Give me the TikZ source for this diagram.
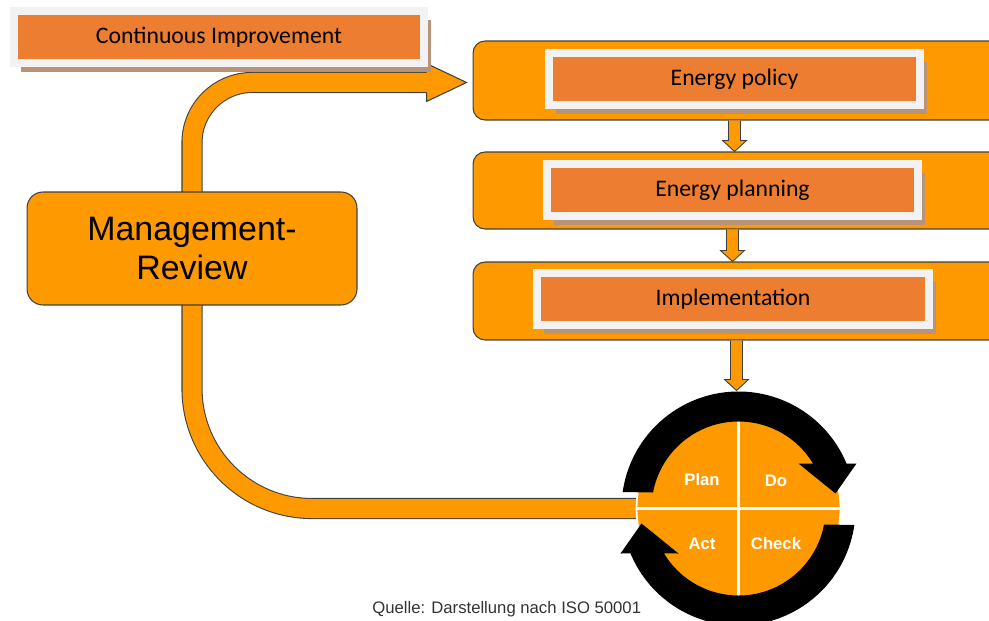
\documentclass[tikz,border=0pt]{standalone}
\usepackage{fontspec}
\setmainfont{Liberation Sans}
\newfontfamily\calibri{Carlito}
\usetikzlibrary{calc,shadows,backgrounds}

\definecolor{boxorange}{HTML}{FF9900}
\definecolor{textorange}{HTML}{ED7D31}
\definecolor{framegray}{HTML}{F2F2F2}
\definecolor{shadowbrown}{HTML}{B8937A}
\definecolor{edgegray}{HTML}{3F3F3F}
\definecolor{captiongray}{HTML}{333333}

% block arrow between two stages, #1 = start, #2 = tip
\newcommand{\stagearrow}[2]{%
  \filldraw[stagelink] ($#1+(-6,0)$) -- ($#2+(-6,-11)$) -- ($#2+(-12,-11)$) -- #2
    -- ($#2+(12,-11)$) -- ($#2+(6,-11)$) -- ($#1+(6,0)$);}

\begin{document}
\begin{tikzpicture}[x=0.02cm, y=-0.02cm,
	stage/.style={draw=edgegray, fill=boxorange, line width=0.6pt, rounded corners=0.24cm, minimum width=10.64cm, minimum height=1.56cm},
	titlebox/.style={draw=framegray, line width=0.16cm, fill=textorange, minimum height=1.04cm, font=\calibri\fontsize{13.5}{16}\selectfont, general shadow={fill=shadowbrown, shadow xshift=0.14cm, shadow yshift=-0.18cm}},
	band/.style={draw=edgegray, line width=0.6pt, double=boxorange, double distance=0.38cm},
	stagelink/.style={draw=edgegray, fill=boxorange, line width=0.5pt},
	ring/.style={fill=black},
	phase/.style={text=white, font=\bfseries\fontsize{9.5}{11}\selectfont}]

	\useasboundingbox (0,0) rectangle (989,621);
	\clip (0,0) rectangle (989,621);

	% process stages
	\node[stage, minimum height=1.58cm] (box1) at (739,80.5) {};
	\node[stage, minimum height=1.54cm] (box2) at (739,190.5) {};
	\node[stage] (box3) at (739,301) {};
	\node[titlebox, minimum width=7.42cm] (e1) at (734.5,79) {Energy policy};
	\node[titlebox, minimum width=7.42cm] (e2) at (732.5,190) {Energy planning};
	\node[titlebox, minimum width=7.84cm] (e3) at (733,299) {Implementation};
	\node[titlebox, minimum width=8.2cm] (ci) at (219,37) {Continuous Improvement};

	\node[draw=edgegray, fill=boxorange, line width=0.6pt, rounded corners=0.32cm, minimum width=6.6cm, minimum height=2.26cm, align=center, font=\fontsize{19.3}{22}\selectfont] (mgmt) at (192,248.5) {Management-\\Review};

	% PDCA wheel
	\node[circle, fill=boxorange, draw=white, line width=1pt, minimum size=4.08cm, inner sep=0pt] (pdca) at (738.5,508.5) {};
	\draw[white, line width=1.7pt] (pdca.north) -- (pdca.south) (pdca.west) -- (pdca.east);
	\begin{scope}[shift={(pdca.center)}]
		\foreach \turn in {0,180}
			\fill[ring, rotate=\turn] (188.1:117) arc[start angle=188.1, end angle=337.4, radius=117]
				-- (118,-45) -- (97,-15) -- (60,-45)
				-- (328.9:87) arc[start angle=328.9, end angle=190.6, radius=87] -- cycle;
	\end{scope}
	\node[phase] (plan) at (702,480) {Plan};
	\node[phase] (do) at (776,481) {Do};
	\node[phase] (act) at (702,544) {Act};
	\node[phase] (check) at (776,544) {Check};

	% links between the stages
	\coordinate (ringtop) at ($(pdca.center)+(-2,-118)$);
	\stagearrow{(e1 |- box1.south)}{(e1 |- box2.north)}
	\stagearrow{(e2 |- box2.south)}{(e2 |- box3.north)}
	\stagearrow{(ringtop |- box3.south)}{(ringtop)}

	% review loop
	\coordinate (headtip) at ($(box1.west)+(-6,2)$);
	\begin{scope}[on background layer]
		\draw[band, rounded corners=1.2cm] (mgmt.center) |- ($(headtip)+(-39,0)$);
		\draw[band, rounded corners=2.4cm] (mgmt.center) |- (pdca.center);
		\filldraw[fill=boxorange, draw=edgegray, line width=0.6pt, shift={(headtip)}] (-40,-10.5) -- (-40,-19) -- (0,0) -- (-40,19) -- (-40,10.5);
	\end{scope}

	\node[text=captiongray, font=\fontsize{9.5}{11}\selectfont] (source) at (506.7,609) {Quelle: Darstellung nach ISO 50001};
\end{tikzpicture}
\end{document}
